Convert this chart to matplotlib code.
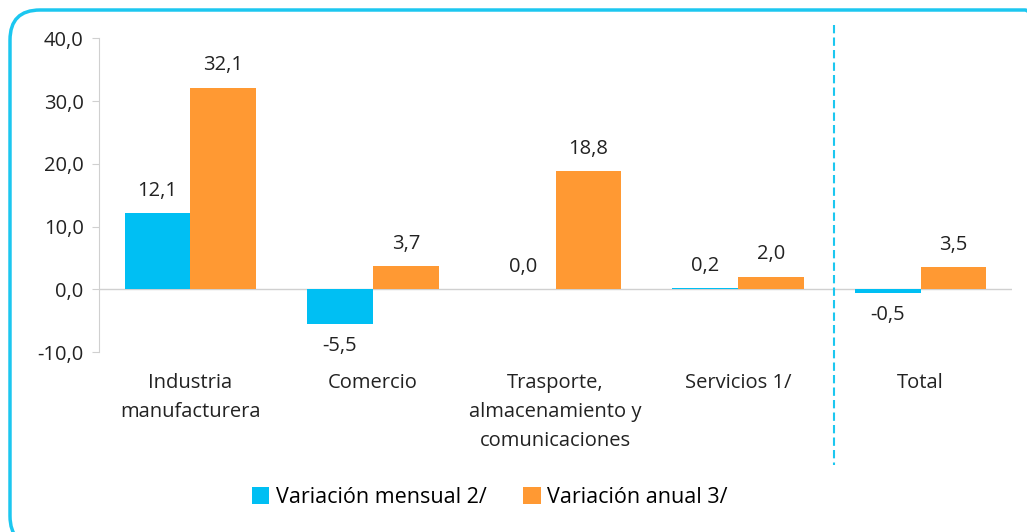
import matplotlib
matplotlib.use('Agg')
import matplotlib.pyplot as plt
import numpy as np
from matplotlib.patches import FancyBboxPatch
from matplotlib.transforms import IdentityTransform

# data
categories = ['Industria\nmanufacturera', 'Comercio',
              'Trasporte,\nalmacenamiento y\ncomunicaciones',
              'Servicios 1/', 'Total']
mensual = [12.1, -5.5, 0.0, 0.2, -0.5]
anual = [32.1, 3.7, 18.8, 2.0, 3.5]
yticks = [-10, 0, 10, 20, 30, 40]

cyan = '#00BFF3'
orange = '#FF9933'
plt.rcParams['font.family'] = ['Open Sans', 'DejaVu Sans']

fig = plt.figure(figsize=(10.27, 5.32), dpi=100)
ax = fig.add_axes([0.0964, 0.338, 0.889, 0.590])

# rounded frame, partly running off the right and bottom edges (pixel coords)
frame = FancyBboxPatch((10, -14), 1045, 536,
                       boxstyle='round,pad=0,rounding_size=30',
                       transform=IdentityTransform(), fill=False,
                       edgecolor='#1CC7F0', linewidth=2.5)
fig.patches.append(frame)

x = np.arange(len(categories))
w = 0.36
b1 = ax.bar(x - w / 2, mensual, w, color=cyan, label='Variación mensual 2/')
b2 = ax.bar(x + w / 2, anual, w, color=orange, label='Variación anual 3/')

def fmt(v):
    return f'{v:.1f}'.replace('.', ',')

for bars, vals in [(b1, mensual), (b2, anual)]:
    for bar, v in zip(bars, vals):
        cx = bar.get_x() + bar.get_width() / 2
        if v < 0:
            ax.text(cx, v - 2.0, fmt(v), ha='center', va='top', fontsize=14.5,
                    color='#222222')
        else:
            ax.text(cx, v + 2.0, fmt(v), ha='center', va='bottom', fontsize=14.5,
                    color='#222222')

ax.axhline(0, color='#D0D0D0', linewidth=1, zorder=0)
ax.set_xlim(-0.5, len(categories) - 0.5)
ax.set_ylim(-10, 40)
ax.set_yticks(yticks)
ax.set_yticklabels([fmt(t) for t in yticks], fontsize=14.5, color='#222222')
ax.set_xticks(x)
ax.set_xticklabels(categories, fontsize=14.5, color='#222222', linespacing=1.6)
ax.tick_params(axis='x', length=0, pad=15)
ax.tick_params(axis='y', length=5, color='#D0D0D0', pad=6)

for s in ['top', 'right', 'bottom']:
    ax.spines[s].set_visible(False)
ax.spines['left'].set_color('#D0D0D0')

# dashed separator before Total
ax.plot([3.525, 3.525], [42.1, -28.0], linestyle=(0, (4, 2)), color='#1CC7F0',
        linewidth=1.5, clip_on=False)

fig.legend(handles=[b1, b2], loc='center', bbox_to_anchor=(0.477, 0.065),
           ncol=2, frameon=False, fontsize=15.5, handlelength=0.8,
           handleheight=0.8, handletextpad=0.3, columnspacing=1.7)

fig.savefig('out.png', dpi=100)
